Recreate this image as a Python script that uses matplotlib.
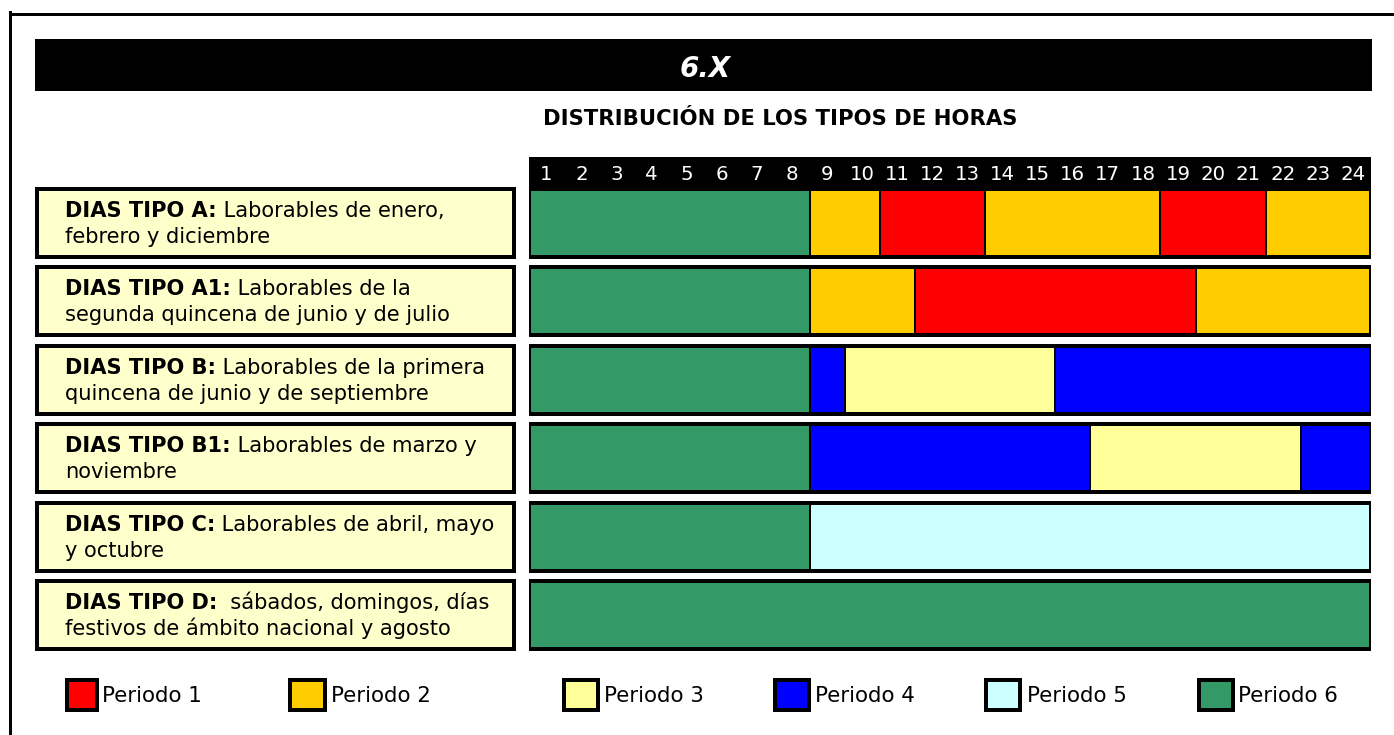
import matplotlib
matplotlib.use("Agg")
import matplotlib.pyplot as plt
from matplotlib.patches import Rectangle
from matplotlib.lines import Line2D

# ---------------- data ----------------
title = "6.X"
subtitle = "DISTRIBUCIÓN DE LOS TIPOS DE HORAS"
hours = list(range(1, 25))
day_types = ["DIAS TIPO A:", "DIAS TIPO A1:", "DIAS TIPO B:", "DIAS TIPO B1:",
             "DIAS TIPO C:", "DIAS TIPO D:"]
desc_line1 = [" Laborables de enero,", " Laborables de la", " Laborables de la primera",
              " Laborables de marzo y", " Laborables de abril, mayo",
              "  sábados, domingos, días"]
desc_line2 = ["febrero y diciembre", "segunda quincena de junio y de julio",
              "quincena de junio y de septiembre", "noviembre", "y octubre",
              "festivos de ámbito nacional y agosto"]
# schedule per day type: (period, number of consecutive hours), starting at hour 1
schedule_A = [(6, 8), (2, 2), (1, 3), (2, 5), (1, 3), (2, 3)]
schedule_A1 = [(6, 8), (2, 3), (1, 8), (2, 5)]
schedule_B = [(6, 8), (4, 1), (3, 6), (4, 9)]
schedule_B1 = [(6, 8), (4, 8), (3, 6), (4, 2)]
schedule_C = [(6, 8), (5, 16)]
schedule_D = [(6, 24)]
schedules = [schedule_A, schedule_A1, schedule_B, schedule_B1, schedule_C, schedule_D]
periods = [1, 2, 3, 4, 5, 6]
period_labels = ["Periodo 1", "Periodo 2", "Periodo 3", "Periodo 4", "Periodo 5", "Periodo 6"]

# ---------------- styles ----------------
period_colors = {1: "#FF0000", 2: "#FFCC00", 3: "#FFFF99", 4: "#0000FF",
                 5: "#CCFFFF", 6: "#339966"}
FONT = "DejaVu Sans"
W, H = 1394, 735
PX = 72 / 100.0  # points per pixel

fig = plt.figure(figsize=(W / 100, H / 100), dpi=100)
fig.patch.set_facecolor("white")

# overlay axes in pixel coordinates
ax0 = fig.add_axes([0, 0, 1, 1])
ax0.set_xlim(0, W)
ax0.set_ylim(H, 0)
ax0.axis("off")

# outer frame
ax0.add_line(Line2D([9.5, 9.5], [12, H], color="black", lw=3 * PX))
ax0.add_line(Line2D([9.5, W], [13.5, 13.5], color="black", lw=3 * PX))

# title bar
ax0.add_patch(Rectangle((35, 39), 1337, 52, facecolor="black", edgecolor="none"))
ax0.text(705, 77, title, color="white", fontsize=20, fontweight="bold",
         fontstyle="italic", family=FONT, ha="center", va="baseline")
ax0.text(780, 125, subtitle, color="black", fontsize=15.2, fontweight="bold",
         family=FONT, ha="center", va="baseline")

# row geometry (pixels)
row_c0 = 223.0
row_pitch = 78.4
row_outer_h = 72.0
bw = 4.0  # border width px
LFS = 15.1

# label boxes
for i, (lab, l1, l2) in enumerate(zip(day_types, desc_line1, desc_line2)):
    c = row_c0 + row_pitch * i
    top = c - row_outer_h / 2
    ax0.add_patch(Rectangle((35 + bw / 2, top + bw / 2), 481 - bw, row_outer_h - bw,
                            facecolor="#FFFFCC", edgecolor="black", lw=bw * PX))
    tb = ax0.text(65, c - 6, lab, fontsize=LFS, fontweight="bold", family=FONT,
                  ha="left", va="baseline", color="black")
    ax0.annotate(l1, xy=(1, 0), xycoords=tb, fontsize=LFS, family=FONT,
                 ha="left", va="bottom", color="black")
    ax0.text(65, c + 20, l2, fontsize=LFS, family=FONT, ha="left",
             va="baseline", color="black")

# legend
sw_left = [65, 288, 562, 773, 984, 1197]
sw_right = [99, 327, 600, 811, 1022, 1235]
txt_left = [102, 331, 604, 815, 1027, 1238]
sw_top, sw_h = 678, 34
for p, lab, x0, x1, xt in zip(periods, period_labels, sw_left, sw_right, txt_left):
    ax0.add_patch(Rectangle((x0 + bw / 2, sw_top + bw / 2), x1 - x0 - bw, sw_h - bw,
                            facecolor=period_colors[p], edgecolor="black", lw=bw * PX))
    ax0.text(xt, sw_top + sw_h / 2 + 1, lab, fontsize=15.4, family=FONT,
             ha="left", va="center", color="black")

# bars axes: x in hours, y in row index
x_left_px, x_right_px = 529.0, 1371.0
y_top_px, y_bot_px = 150.0, 660.0
axb = fig.add_axes([x_left_px / W, (H - y_bot_px) / H,
                    (x_right_px - x_left_px) / W, (y_bot_px - y_top_px) / H])
axb.set_xlim(0, len(hours))
axb.set_ylim((y_bot_px - row_c0) / row_pitch, (y_top_px - row_c0) / row_pitch)
axb.axis("off")
axb.patch.set_alpha(0)

ux = len(hours) / (x_right_px - x_left_px)  # data units per px in x
bar_h = (row_outer_h - bw) / row_pitch

# header band with hour numbers
hdr_top = (157 - row_c0) / row_pitch
hdr_bot = (row_c0 - row_outer_h / 2 + bw - row_c0) / row_pitch
axb.add_patch(Rectangle((-bw / 2 * ux, hdr_top), len(hours) + bw * ux,
                        hdr_bot - hdr_top, facecolor="black", edgecolor="none"))
for h in hours:
    axb.text(h - 0.5, (175 - row_c0) / row_pitch, str(h), color="white",
             fontsize=14.2, family=FONT, ha="center", va="center")

for i, sched in enumerate(schedules):
    left = 0
    for p, n in sched:
        axb.barh(i, n, left=left, height=bar_h, color=period_colors[p],
                 edgecolor="black", linewidth=2 * PX)
        left += n
    axb.barh(i, len(hours), left=0, height=bar_h, fill=False,
             edgecolor="black", linewidth=bw * PX)

fig.savefig("out.png", dpi=100, facecolor="white")
